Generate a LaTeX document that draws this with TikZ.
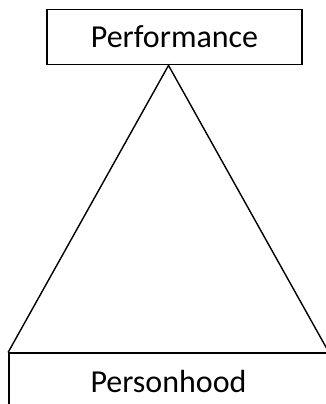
\documentclass[tikz,border=0pt]{standalone}
\usepackage{fontspec}
\setmainfont{Carlito}
\usetikzlibrary{positioning}

\begin{document}
\begin{tikzpicture}[x=1pt, y=1pt,
    label box/.style={draw, line width=1.8pt, rectangle, inner sep=0pt, align=center, font=\fontsize{32}{38}\selectfont}]
    \useasboundingbox (0,0) rectangle (325,-404);
    \node[label box, minimum width=255pt, minimum height=55pt] (perf) at (174.5,-37) {Performance};
    \node[label box, minimum width=319pt, minimum height=56pt, below=287pt of perf, xshift=-6pt] (pers) {Personhood};
    \coordinate (apex) at (pers |- perf.south);
    \draw[line width=1.4pt] (pers.north west) -- (apex) -- (pers.north east);
\end{tikzpicture}
\end{document}
